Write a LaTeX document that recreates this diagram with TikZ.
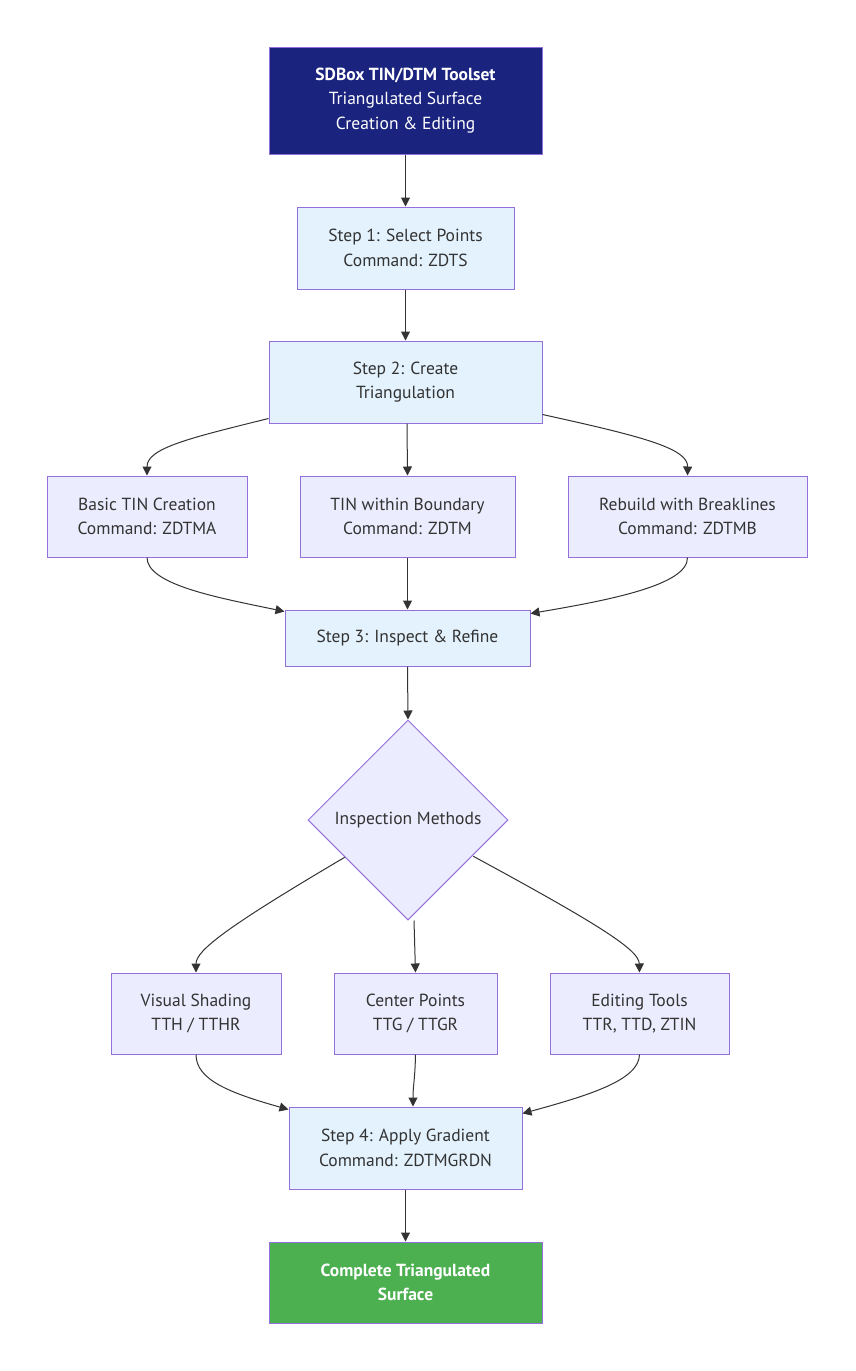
\documentclass[tikz,border=0pt]{standalone}
\usepackage{fontspec}
\setmainfont{PT Sans}
\usetikzlibrary{shapes.geometric,arrows.meta}
\definecolor{navy}{HTML}{1A237E}
\definecolor{stepfill}{HTML}{E3F2FD}
\definecolor{subfill}{HTML}{ECECFF}
\definecolor{donefill}{HTML}{4CAF50}
\definecolor{bord}{HTML}{9370DB}
\definecolor{txt}{HTML}{333333}
\definecolor{edge}{HTML}{333333}
\tikzset{
  x=1pt,y=-1pt,
  base/.style={draw=bord,line width=1pt,inner sep=0pt,align=center,text=txt,
    font=\fontsize{17.5}{24.5}\selectfont},
  stepbox/.style={base,fill=stepfill},
  subbox/.style={base,fill=subfill},
  navybox/.style={base,fill=navy,text=white},
  donebox/.style={base,fill=donefill,text=white},
  conn/.style={draw=edge,line width=1pt,-{Triangle[length=9pt,width=9pt]}},
}
\begin{document}
\begin{tikzpicture}
\useasboundingbox[fill=white] (0,0) rectangle (855,1371);
\node[navybox,minimum width=273,minimum height=107] (top) at (405.5,100.5)
  {\textbf{SDBox TIN/DTM Toolset}\\Triangulated Surface\\Creation \& Editing};
\node[stepbox,minimum width=217,minimum height=82] (s1) at (405.5,248)
  {Step 1: Select Points\\Command: ZDTS};
\node[stepbox,minimum width=273,minimum height=82] (s2) at (405.5,382)
  {Step 2: Create\\Triangulation};
\node[subbox,minimum width=200,minimum height=81] (basic) at (147,516.5)
  {Basic TIN Creation\\Command: ZDTMA};
\node[subbox,minimum width=215,minimum height=81] (bound) at (407.5,516.5)
  {TIN within Boundary\\Command: ZDTM};
\node[subbox,minimum width=239,minimum height=81] (rebuild) at (687.5,516.5)
  {Rebuild with Breaklines\\Command: ZDTMB};
\node[stepbox,minimum width=245,minimum height=56] (s3) at (407.5,638)
  {Step 3: Inspect \& Refine};
\node[subbox,diamond,aspect=1,minimum width=200,minimum height=200] (insp) at (408,820)
  {Inspection Methods};
\node[subbox,minimum width=170,minimum height=81] (vis) at (196,1013.5)
  {Visual Shading\\TTH / TTHR};
\node[subbox,minimum width=163,minimum height=81] (cen) at (415.5,1013.5)
  {Center Points\\TTG / TTGR};
\node[subbox,minimum width=179,minimum height=81] (edit) at (639.5,1013.5)
  {Editing Tools\\TTR, TTD, ZTIN};
\node[stepbox,minimum width=233,minimum height=82] (s4) at (405.5,1148)
  {Step 4: Apply Gradient\\Command: ZDTMGRDN};
\node[donebox,minimum width=273,minimum height=81] (done) at (405.5,1282.5)
  {\textbf{Complete Triangulated}\\\textbf{Surface}};

\draw[conn] (top.south) -- (s1.north);
\draw[conn] (s1.south) -- (s2.north);
\draw[conn] ([yshift=5]s2.south west) .. controls (190,438) and (147,448) .. (basic.north);
\draw[conn] ([xshift=1.5]s2.south) -- (bound.north);
\draw[conn] ([yshift=9]s2.south east) .. controls (640,436) and (688,448) .. (rebuild.north);
\draw[conn] (basic.south) .. controls (147,585) and (220,598) .. ([yshift=-2]s3.north west);
\draw[conn] (bound.south) -- (s3.north);
\draw[conn] (rebuild.south) .. controls (688,585) and (610,600) .. ([yshift=-4]s3.north east);
\draw[conn] (s3.south) -- (insp.north);
\draw[conn] (insp.south west) ++(-13,-13) coordinate (dl) (dl) .. controls (230,925) and (196,950) .. (vis.north);
\draw[conn] ([xshift=6]insp.south) -- (cen.north);
\draw[conn] (insp.south east) ++(15,-14) coordinate (dr) (dr) .. controls (600,925) and (639,950) .. (edit.north);
\draw[conn] (vis.south) .. controls (196,1080) and (230,1093) .. ([yshift=-3]s4.north west);
\draw[conn] (cen.south) .. controls (415,1080) and (413,1085) .. ([xshift=7.5]s4.north);
\draw[conn] (edit.south) .. controls (639,1080) and (590,1095) .. ([yshift=-7]s4.north east);
\draw[conn] (s4.south) -- (done.north);
\end{tikzpicture}
\end{document}
